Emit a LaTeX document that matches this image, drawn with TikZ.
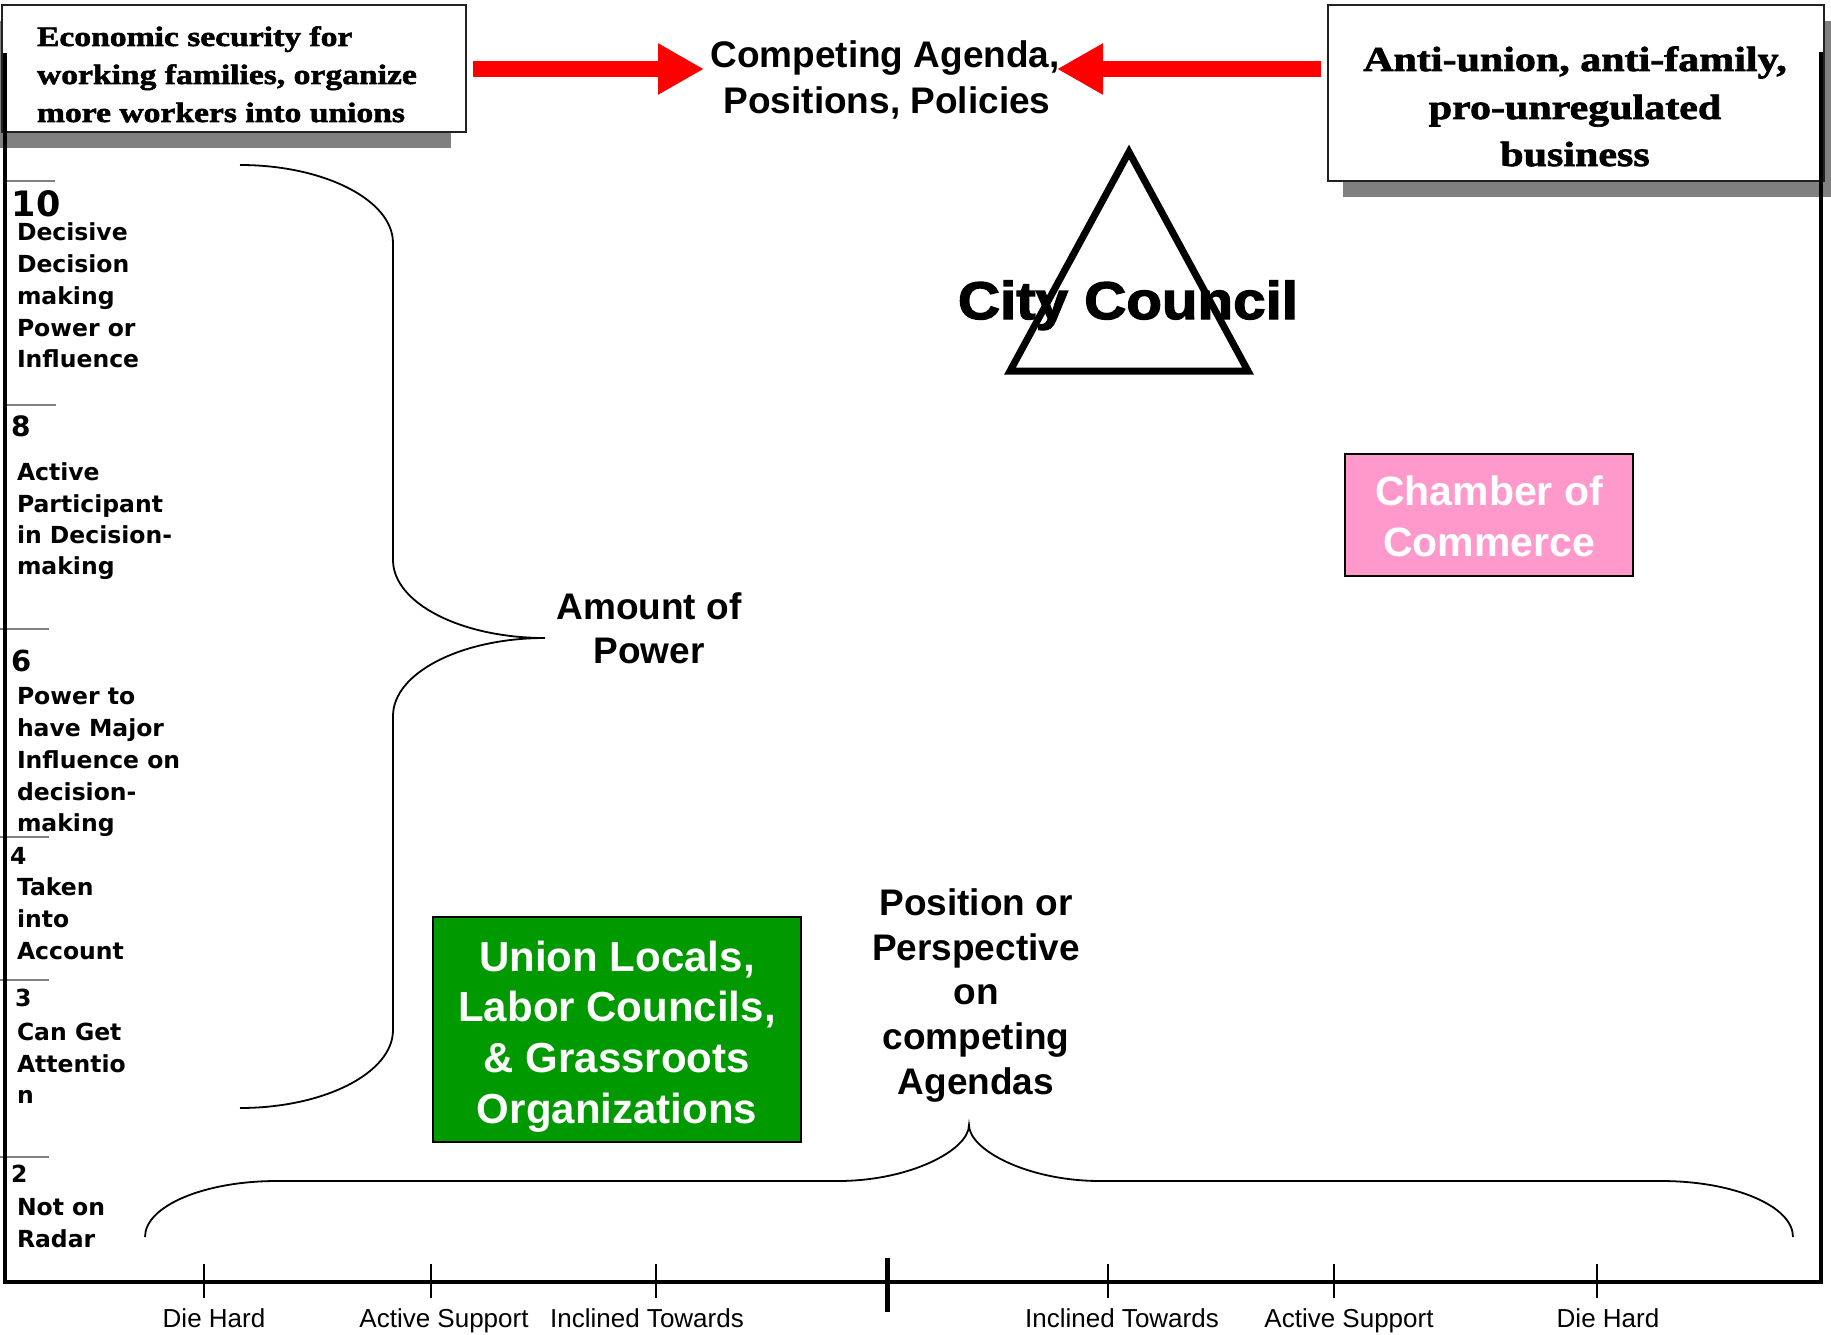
\documentclass[tikz,border=0pt]{standalone}
\usepackage{fontspec}
\setmainfont{Liberation Sans}
\newfontfamily\dvs{DejaVu Sans}
\newfontfamily\serifwide{Liberation Serif}[FakeStretch=1.2,FakeBold=2]
\newfontfamily\heavysans{Liberation Sans}[FakeBold=2.5,FakeStretch=1.1]
\usetikzlibrary{arrows.meta}
\definecolor{arrowred}{HTML}{FF0000}
\definecolor{shadowgray}{HTML}{808080}
\definecolor{chamberpink}{HTML}{FF99CC}
\definecolor{uniongreen}{HTML}{009900}
\definecolor{boxline}{HTML}{222222}
\newcommand\setfs[2]{\fontsize{#1}{#2}\selectfont}
\begin{document}
\begin{tikzpicture}[x=1pt,y=-1pt,
  every node/.style={inner sep=0pt,outer sep=0pt},
  whitebox/.style={draw=boxline,line width=2pt,fill=white,anchor=north west},
  colbox/.style={draw=black,line width=2.2pt,anchor=north west},
  lvl/.style={font={\dvs\bfseries\setfs{23.5}{32}},anchor=base west},
  num/.style={font={\dvs\bfseries},anchor=base west},
  big/.style={font={\bfseries\setfs{37}{45}},anchor=base},
  boxtxt/.style={font={\bfseries\setfs{42}{50}},text=white,anchor=base},
  axlab/.style={font={\setfs{26}{30}},anchor=base},
  serifl/.style={font={\serifwide\bfseries\setfs{28}{37}},anchor=base west},
  serifr/.style={font={\serifwide\bfseries\setfs{35}{48}},anchor=base},
  redarrow/.style={draw=arrowred,line width=16pt,-{Triangle[length=46pt,width=48pt,fill=arrowred]}},
  brace/.style={draw=black,line width=1.8pt},
  gtick/.style={draw=shadowgray,line width=1.5pt},
  btick/.style={draw=black,line width=1.2pt},
  frame/.style={draw=black,line width=4.5pt,line join=miter}
]
\useasboundingbox (0,0) rectangle (1831,1335);

% ---- top boxes with shadows
\fill[shadowgray] (-13,21) rectangle (451,148);
\node[whitebox,minimum width=464pt,minimum height=127pt] (lbox) at (2,5) {};
\node[serifl] (lt1) at (37,46) {Economic security for};
\node[serifl] (lt2) at (37,84) {working families, organize};
\node[serifl] (lt3) at (37,122) {more workers into unions};

\fill[shadowgray] (1343,21) rectangle (1845,197);
\node[whitebox,minimum width=496pt,minimum height=176pt] (rbox) at (1328,5) {};
\node[serifr] (rt1) at (1575,71) {Anti-union, anti-family,};
\node[serifr] (rt2) at (1575,119) {pro-unregulated};
\node[serifr] (rt3) at (1575,166) {business};

% ---- competing agenda
\node[big] (comp1) at (885,68) {Competing Agenda,};
\node[big] (comp2) at (887,114) {Positions, Policies};
\coordinate (arrLs) at (473,69);
\coordinate (arrLe) at (704,69);
\coordinate (arrRs) at (1321,69);
\coordinate (arrRe) at (1057,69);
\draw[redarrow] (arrLs) -- (arrLe);
\draw[redarrow] (arrRs) -- (arrRe);

% ---- city council
\draw[line width=7pt,line join=miter] (1129,152) -- (1248,371) -- (1010,371) -- cycle;
\node[font={\heavysans\bfseries\setfs{53}{60}},anchor=base] (city) at (1128,319) {City Council};

% ---- chamber of commerce
\node[colbox,fill=chamberpink,minimum width=288pt,minimum height=122pt] (chamber) at (1345,454) {};
\node[boxtxt,font={\bfseries\setfs{41}{47}}] (ch1) at (1489,505) {Chamber of};
\node[boxtxt,font={\bfseries\setfs{41}{47}}] (ch2) at (1489,556) {Commerce};

% ---- union box
\node[colbox,fill=uniongreen,minimum width=368pt,minimum height=225pt] (union) at (433,917) {};
\node[boxtxt] (un1) at (617,971) {Union Locals,};
\node[boxtxt] (un2) at (617,1021) {Labor Councils,};
\node[boxtxt] (un3) at (617,1072) {\& Grassroots};
\node[boxtxt] (un4) at (617,1123) {Organizations};

% ---- amount of power
\node[big] (amt1) at (649,619) {Amount of};
\node[big] (amt2) at (649,663) {Power};
\draw[brace] (240,165) .. controls (324,165) and (393,200) .. (393,243)
  -- (393,560) .. controls (393,603) and (461,638) .. (545,638)
  .. controls (461,638) and (393,673) .. (393,716)
  -- (393,1030) .. controls (393,1073) and (324,1108) .. (240,1108);

% ---- position or perspective
\node[big] (pos1) at (976,915) {Position or};
\node[big] (pos2) at (976,960) {Perspective};
\node[big] (pos3) at (976,1004) {on};
\node[big] (pos4) at (976,1049) {competing};
\node[big] (pos5) at (976,1094) {Agendas};
\draw[brace] (145,1237) .. controls (145,1206) and (204,1181) .. (277,1181)
  -- (838,1181) .. controls (910,1181) and (969,1150) .. (969,1125)
  .. controls (969,1150) and (1028,1181) .. (1100,1181)
  -- (1661,1181) .. controls (1734,1181) and (1793,1206) .. (1793,1237);

% ---- left scale labels
\node[num,font={\dvs\bfseries\setfs{35}{40}}] (n10) at (12,216) {10};
\node[num,font={\dvs\bfseries\setfs{28}{32}}] (n8) at (11,436) {8};
\node[num,font={\dvs\bfseries\setfs{29}{32}}] (n6) at (11,671) {6};
\node[num,font={\dvs\bfseries\setfs{23.5}{32}}] (n4) at (10,864) {4};
\node[num,font={\dvs\bfseries\setfs{23.5}{32}}] (n3) at (15,1006) {3};
\node[num,font={\dvs\bfseries\setfs{23.5}{32}}] (n2) at (11,1182) {2};
\foreach \t/\y [count=\i] in {Decisive/240,Decision/272,making/304,Power or/336,Influence/367,
  Active/480,Participant/512,in Decision-/543,making/574,
  Power to/704,have Major/736,Influence on/768,decision-/800,making/831,
  Taken/895,into/927,Account/959,
  Can Get/1040,Attentio/1072,n/1103,
  Not on/1215,Radar/1247}
  \node[lvl] (lv\i) at (17,\y) {\t};

\foreach \y/\a/\b in {181/7/55,405/7/56,629/0/49,837/0/49,980/0/49,1157/0/49}
  \draw[gtick] (\a,\y) -- (\b,\y);

% ---- bottom axis
\foreach \x in {204,431,656,1108,1334,1597}
  \draw[btick] (\x,1264) -- (\x,1298);
\draw[line width=5pt] (887,1258) -- (887,1312);
\foreach \x/\t [count=\i] in {214/Die Hard,444/Active Support,647/Inclined Towards,1122/Inclined Towards,1349/Active Support,1608/Die Hard}
  \node[axlab] (ax\i) at (\x,1327) {\t};

% ---- frame
\draw[frame] (5,53) -- (5,1282) -- (1821,1282) -- (1821,52);
\end{tikzpicture}
\end{document}
